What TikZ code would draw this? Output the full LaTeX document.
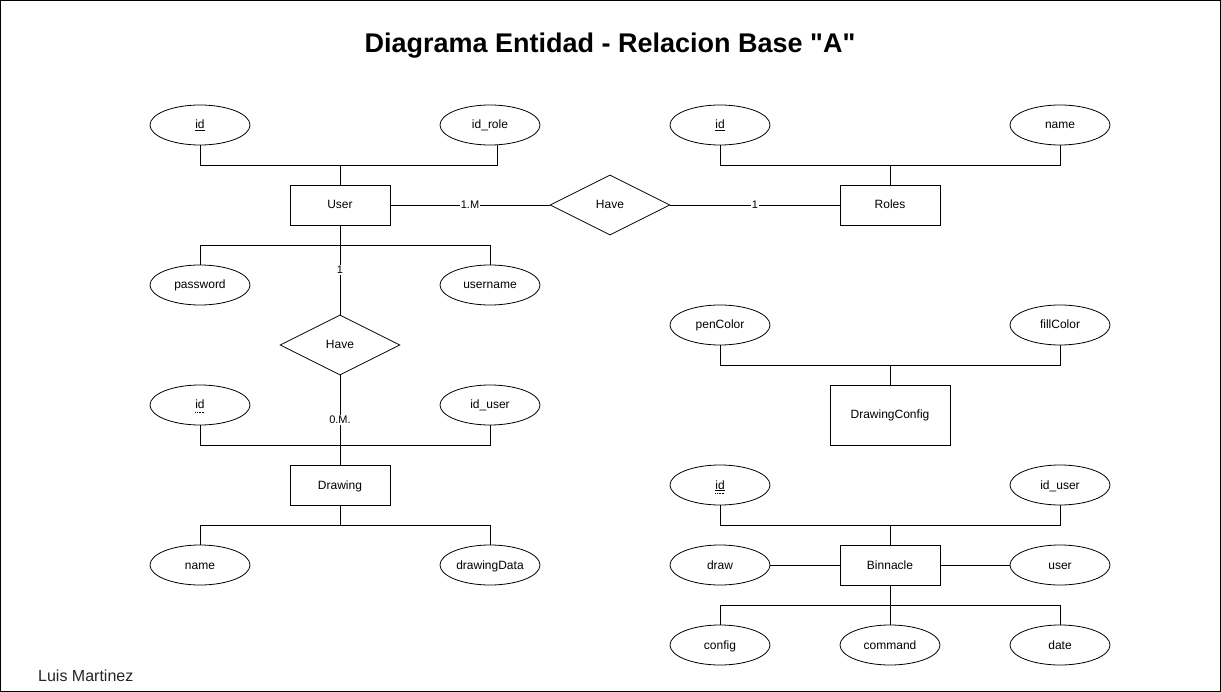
\documentclass[tikz,border=0pt]{standalone}
\usepackage{fontspec}
\setmainfont{Liberation Sans}
\usetikzlibrary{shapes.geometric,calc}
\begin{document}
\begin{tikzpicture}[x=1pt,y=-1pt,
  every node/.style={font=\fontsize{12}{14}\selectfont, text=black},
  entity/.style={draw, rectangle, minimum width=100pt, minimum height=40pt, inner sep=0pt, line width=0.8pt, text height=10pt, text depth=2pt},
  attr/.style={draw, ellipse, minimum width=100pt, minimum height=40pt, inner sep=0pt, line width=0.8pt, text height=10pt, text depth=2pt},
  rel/.style={draw, diamond, aspect=2, minimum width=120pt, minimum height=60pt, inner sep=0pt, line width=0.8pt, text height=10pt, text depth=2pt},
  conn/.style={draw, line width=0.8pt},
  card/.style={fill=white, inner sep=1pt, font=\fontsize{11}{13}\selectfont, text height=8pt, text depth=0.5pt}
]
\useasboundingbox (0,0) rectangle (1221,692);
\draw[line width=1pt] (0.5,0.5) rectangle (1220.5,691.5);

\node[font=\fontsize{27}{32}\selectfont\bfseries] (title) at (610,46) {Diagrama Entidad - Relacion Base \textquotedbl A\textquotedbl};
\node[font=\fontsize{16}{19}\selectfont, text=black!85, anchor=west, inner sep=0pt] (author) at (38,676) {Luis Martinez};

% entities
\node[entity] (user) at (340,205) {User};
\node[entity] (roles) at (890,205) {Roles};
\node[entity] (drawing) at (340,485) {Drawing};
\node[entity, minimum width=120pt, minimum height=60pt] (dconf) at (890,415) {DrawingConfig};
\node[entity] (binn) at (890,565) {Binnacle};

% relations
\node[rel] (have1) at (610,205) {Have};
\node[rel] (have2) at (340,345) {Have};

% attributes
\node[attr] (u_id) at (200,125) {\underline{id}};
\node[attr] (u_idrole) at (490,125) {id\_role};
\node[attr] (u_pass) at (200,285) {password};
\node[attr] (u_name) at (490,285) {username};
\node[attr] (d_id) at (200,405) {id};
\node[attr] (d_iduser) at (490,405) {id\_user};
\node[attr] (d_name) at (200,565) {name};
\node[attr] (d_data) at (490,565) {drawingData};
\node[attr] (r_id) at (720,125) {\underline{id}};
\node[attr] (r_name) at (1060,125) {name};
\node[attr] (c_pen) at (720,325) {penColor};
\node[attr] (c_fill) at (1060,325) {fillColor};
\node[attr] (b_id) at (720,485) {\underline{id}};
\node[attr] (b_iduser) at (1060,485) {id\_user};
\node[attr] (b_draw) at (720,565) {draw};
\node[attr] (b_user) at (1060,565) {user};
\node[attr] (b_conf) at (720,645) {config};
\node[attr] (b_cmd) at (890,645) {command};
\node[attr] (b_date) at (1060,645) {date};

% dotted underline for partial key
\draw[densely dotted, line width=0.6pt] ($(d_id.base)+(-4.7,3)$) -- ++(9.4,0);
\draw[densely dotted, line width=0.6pt] ($(b_id.base)+(-4.7,4)$) -- ++(9.4,0);

% User attributes
\draw[conn] (u_id.south) -- ++(0,20) -| (user.north);
\draw[conn] ([xshift=7pt]u_idrole.south) -- ++(0,20) -| (user.north);
\draw[conn] (user.south) -- ++(0,20) -| (u_pass.north);
\draw[conn] (user.south) -- ++(0,20) -| (u_name.north);

% Roles attributes
\draw[conn] (r_id.south) -- ++(0,20) -| (roles.north);
\draw[conn] (r_name.south) -- ++(0,20) -| (roles.north);

% relations
\draw[conn] (user.east) -- node[card] {1.M} (have1.west);
\draw[conn] (have1.east) -- node[card] {1} (roles.west);
\draw[conn] (user.south) -- node[card] {1} (have2.north);
\draw[conn] (have2.south) -- node[card] {0.M.} (drawing.north);

% Drawing attributes
\draw[conn] (d_id.south) -- ++(0,20) -| (drawing.north);
\draw[conn] (d_iduser.south) -- ++(0,20) -| (drawing.north);
\draw[conn] (drawing.south) -- ++(0,20) -| (d_name.north);
\draw[conn] (drawing.south) -- ++(0,20) -| (d_data.north);

% DrawingConfig attributes
\draw[conn] (c_pen.south) -- ++(0,20) -| (dconf.north);
\draw[conn] (c_fill.south) -- ++(0,20) -| (dconf.north);

% Binnacle attributes
\draw[conn] (b_id.south) -- ++(0,20) -| (binn.north);
\draw[conn] (b_iduser.south) -- ++(0,20) -| (binn.north);
\draw[conn] (b_draw.east) -- (binn.west);
\draw[conn] (binn.east) -- (b_user.west);
\draw[conn] (binn.south) -- ++(0,20) -| (b_conf.north);
\draw[conn] (binn.south) -- (b_cmd.north);
\draw[conn] (binn.south) -- ++(0,20) -| (b_date.north);
\end{tikzpicture}
\end{document}
